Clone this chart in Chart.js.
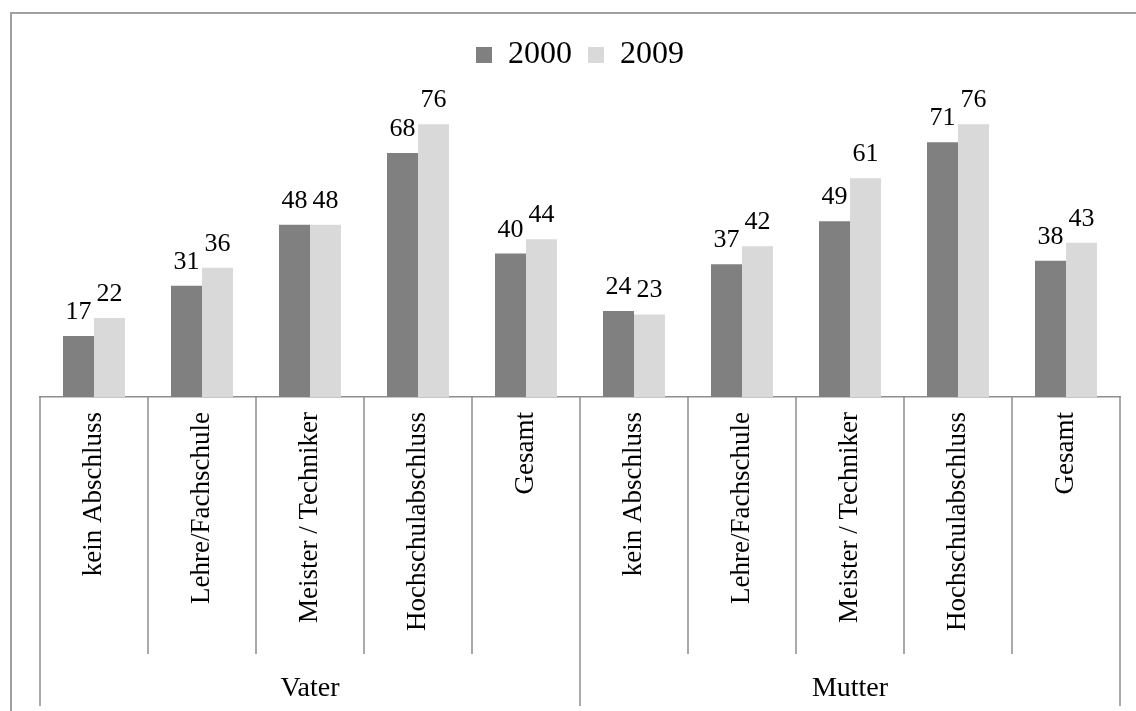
<!DOCTYPE html>
<html><head><meta charset="utf-8">
<script src="https://cdn.jsdelivr.net/npm/chart.js@4.4.1/dist/chart.umd.min.js"></script>
<style>html,body{margin:0;padding:0;background:#fff;} canvas{display:block;}</style>
</head><body>
<canvas id="c" width="1136" height="711"></canvas>
<script>
const categories = ['kein Abschluss','Lehre/Fachschule','Meister / Techniker','Hochschulabschluss','Gesamt',
                    'kein Abschluss','Lehre/Fachschule','Meister / Techniker','Hochschulabschluss','Gesamt'];
const groups = ['Vater','Mutter'];
const groupSizes = [5, 5];
const seriesNames = ['2000', '2009'];
const values2000 = [17, 31, 48, 68, 40, 24, 37, 49, 71, 38];
const values2009 = [22, 36, 48, 76, 44, 23, 42, 61, 76, 43];
const yMin = 0, yMax = 80;

const FONT = "'Liberation Serif', 'Times New Roman', serif";
const LINE = '#8e8e8e';

const frame = {
  id: 'frame',
  beforeDraw(chart) {
    const ctx = chart.ctx;
    ctx.save();
    ctx.strokeStyle = '#a0a0a0';
    ctx.lineWidth = 2;
    ctx.strokeRect(11, 13, chart.width + 50, chart.height + 50);
    ctx.restore();
  }
};

const separators = {
  id: 'separators',
  afterDraw(chart) {
    const x = chart.scales.x, x2 = chart.scales.x2, ctx = chart.ctx;
    const n = categories.length;
    const step = x.getPixelForTick(1) - x.getPixelForTick(0);
    const bounds = new Set([0]);
    let acc = 0;
    groupSizes.forEach(s => { acc += s; bounds.add(acc); });
    ctx.save();
    ctx.strokeStyle = LINE;
    ctx.lineWidth = 1.5;
    for (let i = 0; i <= n; i++) {
      const px = (i < n ? x.getPixelForTick(i) - step / 2 : x.getPixelForTick(n - 1) + step / 2);
      const yEnd = bounds.has(i) ? x2.bottom - 5 : x.bottom;
      ctx.beginPath();
      ctx.moveTo(Math.round(px), x.top);
      ctx.lineTo(Math.round(px), yEnd);
      ctx.stroke();
    }
    ctx.restore();
  }
};

const dataLabels = {
  id: 'dataLabels',
  afterDatasetsDraw(chart) {
    const ctx = chart.ctx;
    ctx.save();
    ctx.font = '26px ' + FONT;
    ctx.fillStyle = '#000';
    ctx.textAlign = 'center';
    ctx.textBaseline = 'alphabetic';
    chart.data.datasets.forEach((ds, di) => {
      chart.getDatasetMeta(di).data.forEach((el, i) => {
        ctx.fillText(String(ds.data[i]), el.x, el.y - 17);
      });
    });
    ctx.restore();
  }
};

new Chart(document.getElementById('c'), {
  type: 'bar',
  data: {
    labels: categories,
    datasets: [
      { label: seriesNames[0], data: values2000, backgroundColor: '#808080', borderWidth: 0,
        xAxisID: 'x', yAxisID: 'y', categoryPercentage: 0.574, barPercentage: 1.0 },
      { label: seriesNames[1], data: values2009, backgroundColor: '#d9d9d9', borderWidth: 0,
        xAxisID: 'x', yAxisID: 'y', categoryPercentage: 0.574, barPercentage: 1.0 }
    ]
  },
  options: {
    responsive: false,
    animation: false,
    layout: { padding: { top: 23, left: 40, right: 16, bottom: 0 } },
    plugins: {
      tooltip: { enabled: false },
      legend: {
        position: 'top',
        labels: {
          font: { family: FONT, size: 32 },
          color: '#000',
          boxWidth: 16,
          boxHeight: 16,
          padding: 16
        }
      }
    },
    scales: {
      x: {
        type: 'category', position: 'bottom',
        grid: { display: false, drawTicks: false },
        border: { display: true, color: LINE, width: 1.5 },
        ticks: {
          autoSkip: false, minRotation: 90, maxRotation: 90, padding: 15,
          color: '#000', font: { family: FONT, size: 27 }
        },
        afterFit: s => { s.height = 257; }
      },
      y: { display: false, min: yMin, max: yMax },
      spacer: {
        type: 'category', position: 'top', labels: groups,
        grid: { display: false }, border: { display: false }, ticks: { display: false },
        afterFit: s => { s.height = 29; }
      },
      x2: {
        type: 'category', position: 'bottom', labels: groups, offset: true,
        grid: { display: false, drawTicks: false },
        border: { display: false },
        ticks: { padding: 18, color: '#000', font: { family: FONT, size: 28 } },
        afterFit: s => { s.height = 57; }
      }
    }
  },
  plugins: [frame, separators, dataLabels]
});
</script>
</body></html>
